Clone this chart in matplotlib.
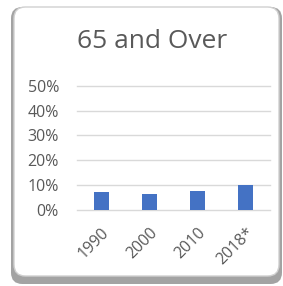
import matplotlib.pyplot as plt
from matplotlib.patches import FancyBboxPatch
from matplotlib.ticker import PercentFormatter

years = ["1990", "2000", "2010", "2018*"]
share_65_over = [0.072, 0.061, 0.075, 0.098]
y_ticks = [0.0, 0.1, 0.2, 0.3, 0.4, 0.5]

plt.rcParams['font.family'] = ['Open Sans', 'DejaVu Sans']

W, H = 283, 286
fig = plt.figure(figsize=(W / 100, H / 100), dpi=100)
fig.patch.set_facecolor("white")

# card with a soft grey shadow
shadow = FancyBboxPatch((11 / W, 1 - 284 / H), 271 / W, 277 / H,
                        boxstyle="round,pad=0,rounding_size=0.04",
                        transform=fig.transFigure, facecolor="#8c8c8c",
                        edgecolor="none", alpha=0.8, zorder=0)
card = FancyBboxPatch((14 / W, 1 - 276 / H), 265 / W, 269 / H,
                      boxstyle="round,pad=0,rounding_size=0.04",
                      transform=fig.transFigure, facecolor="white",
                      edgecolor="#d0d0d0", linewidth=1.0, zorder=1)
fig.patches.extend([shadow, card])

ax = fig.add_axes([77 / W, 1 - 209.5 / H, 193 / W, 123.5 / H])
ax.set_facecolor("none")
ax.set_zorder(2)

x = range(len(years))
ax.bar(x, share_65_over, width=0.31, color="#4472C4", zorder=3)

ax.set_xlim(-0.5, 3.5)
ax.set_ylim(0, 0.5)
ax.set_yticks(y_ticks)
ax.yaxis.set_major_formatter(PercentFormatter(1.0, decimals=0))
ax.grid(axis="y", color="#d9d9d9", linewidth=1.0)
ax.set_axisbelow(True)
for gl in ax.get_ygridlines():
    gl.set_clip_on(False)

ax.set_xticks(list(x))
ax.set_xticklabels(years, rotation=45, ha="right", rotation_mode="anchor")
ax.tick_params(axis="both", length=0, labelsize=11.5, colors="#595959")
ax.tick_params(axis="y", pad=13)
ax.tick_params(axis="x", pad=11)
for s in ax.spines.values():
    s.set_visible(False)

fig.text(152 / W, 1 - 42 / H, "65 and Over", ha="center", va="center",
         fontsize=19, color="#595959", zorder=3)

fig.savefig("out.png", dpi=100)
